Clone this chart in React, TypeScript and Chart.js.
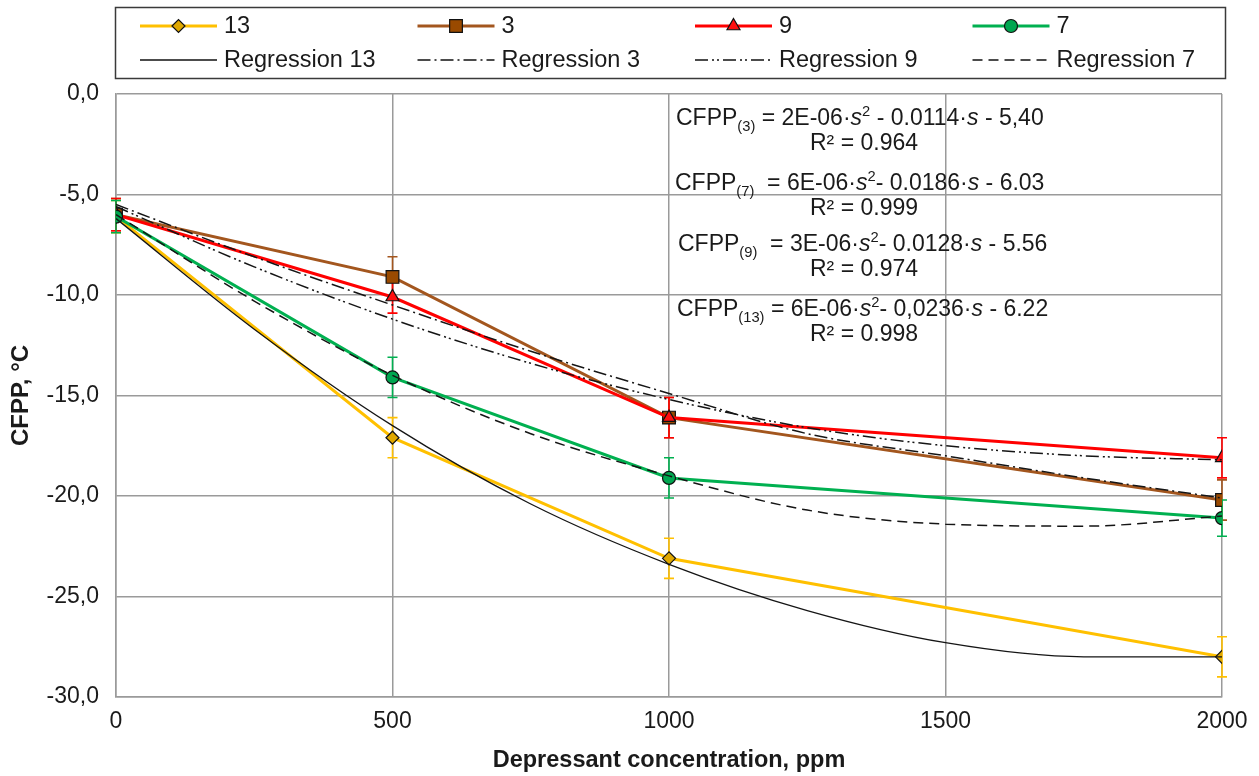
import React, { useEffect, useRef } from 'react';
import { Chart, registerables } from 'chart.js';
import { drawPoint } from 'chart.js/helpers';

Chart.register(...registerables);

// ---------- data ----------
const concentrations = [0, 500, 1000, 2000];
const series13 = [-6.1, -17.1, -23.1, -28.0];
const series3 = [-6.0, -9.1, -16.1, -20.2];
const series9 = [-6.0, -10.1, -16.1, -18.1];
const series7 = [-6.1, -14.1, -19.1, -21.1];
const err13 = [0.8, 1.0, 1.0, 1.0];
const err3 = [0.8, 1.0, 1.0, 1.0];
const err9 = [0.8, 0.8, 1.0, 1.0];
const err7 = [0.8, 1.0, 1.0, 0.9];

const regX = [0, 250, 500, 750, 1000, 1250, 1500, 1750, 2000];
const reg13 = [-6.2, -11.7, -16.5, -20.4, -23.4, -25.7, -27.3, -28.0, -28.0];
const reg3 = [-5.5, -8.1, -10.5, -12.8, -14.9, -16.9, -18.0, -19.1, -20.1];
const reg9 = [-5.6, -8.6, -11.2, -13.4, -15.2, -16.6, -17.5, -18.0, -18.2];
const reg7 = [-6.0, -10.3, -14.0, -16.9, -19.0, -20.7, -21.4, -21.5, -21.0];

const seriesNames = ['13', '3', '9', '7'];
const regNames = ['Regression 13', 'Regression 3', 'Regression 9', 'Regression 7'];

const xTickValues = [0, 500, 1000, 1500, 2000];
const xTickLabels = ['0', '500', '1000', '1500', '2000'];
const yTickValues = [0, -5, -10, -15, -20, -25, -30];
const yTickLabels = ['0,0', '-5,0', '-10,0', '-15,0', '-20,0', '-25,0', '-30,0'];

const eqSub = ['(3)', '(7)', '(9)', '(13)'];
const eqGap = [' ', '  ', '  ', ' '];
const eqCoefA = ['2E-06', '6E-06', '3E-06', '6E-06'];
const eqSepSq = [' ', '', '', ''];
const eqCoefB = ['0.0114', '0.0186', '0.0128', '0,0236'];
const eqConst = ['5,40', '6.03', '5.56', '6.22'];
const eqR2 = ['0.964', '0.999', '0.974', '0.998'];

// ---------- style ----------
const FONT = "'Liberation Sans', Arial, sans-serif";
const TEXT = '#1a1a1a';
const GRID = '#9a9a9a';
const lineColors = ['#FFC000', '#A3561E', '#FF0000', '#00B050'];
const markerFill = ['#E0A800', '#9A4A00', '#FF1010', '#00A650'];
const markerStyles = ['rectRot', 'rect', 'triangle', 'circle'];
const markerRadius = [6.5, 9, 7.5, 6.5];
const seriesOrder = [5, 4, 3, 2];
const regDash: number[][] = [[], [13, 4, 2, 4], [13, 4, 2, 3, 2, 4], [10, 6]];

const allSeries = [series13, series3, series9, series7];
const allErr = [err13, err3, err9, err7];
const allReg = [reg13, reg3, reg9, reg7];

const errorBarPlugin = {
  id: 'errorBars',
  beforeDatasetsDraw(chart: any) {
    const { ctx, scales } = chart;
    const xs = scales.x, ys = scales.y;
    ctx.save();
    ctx.lineWidth = 1.6;
    allSeries.forEach((s, si) => {
      ctx.strokeStyle = lineColors[si];
      s.forEach((v, i) => {
        const px = xs.getPixelForValue(concentrations[i]);
        const top = ys.getPixelForValue(v + allErr[si][i]);
        const bot = ys.getPixelForValue(v - allErr[si][i]);
        ctx.beginPath();
        ctx.moveTo(px, top); ctx.lineTo(px, bot);
        ctx.moveTo(px - 5, top); ctx.lineTo(px + 5, top);
        ctx.moveTo(px - 5, bot); ctx.lineTo(px + 5, bot);
        ctx.stroke();
      });
    });
    ctx.restore();
  },
};

function drawRich(ctx: CanvasRenderingContext2D, parts: { t: string; k?: string }[], x: number, y: number, size: number) {
  let cx = x;
  for (const p of parts) {
    let s = size, dy = 0, st = '';
    if (p.k === 'sub') { s = size * 0.64; dy = size * 0.27; }
    if (p.k === 'sup') { s = size * 0.64; dy = -size * 0.38; }
    if (p.k === 'it') st = 'italic ';
    ctx.font = `${st}${s}px ${FONT}`;
    ctx.fillText(p.t, cx, y + dy);
    cx += ctx.measureText(p.t).width;
  }
}

const annotationPlugin = {
  id: 'equations',
  afterDraw(chart: any) {
    const ctx: CanvasRenderingContext2D = chart.ctx;
    const ca = chart.chartArea;
    ctx.save();
    ctx.fillStyle = TEXT;
    ctx.textBaseline = 'alphabetic';
    const eqLeft = [676, 675, 678, 677];
    const eqBase = [125, 190, 251, 316];
    const r2Base = [150, 215, 276, 341];
    const size = 23;
    eqSub.forEach((sub, i) => {
      const parts = [
        { t: 'CFPP' },
        { t: sub, k: 'sub' },
        { t: eqGap[i] + '= ' + eqCoefA[i] + '·' },
        { t: 's', k: 'it' },
        { t: '2', k: 'sup' },
        { t: eqSepSq[i] + '- ' + eqCoefB[i] + '·' },
        { t: 's', k: 'it' },
        { t: ' - ' + eqConst[i] },
      ];
      ctx.textAlign = 'left';
      drawRich(ctx, parts, eqLeft[i], eqBase[i], size);
      ctx.font = `${size}px ${FONT}`;
      ctx.textAlign = 'center';
      ctx.fillText('R² = ' + eqR2[i], 864, r2Base[i]);
    });

    // legend
    const bx = ca.left - 1, by = 7, bw = ca.right - ca.left + 4, bh = 71;
    ctx.strokeStyle = '#3a3a3a';
    ctx.lineWidth = 1.5;
    ctx.strokeRect(bx + 0.5, by + 0.5, bw, bh);
    const colW = bw / 4;
    const rowY = [26, 60];
    ctx.textAlign = 'left';
    ctx.textBaseline = 'middle';
    for (let i = 0; i < 4; i++) {
      const x0 = bx + 25 + colW * i;
      const x1 = x0 + 77;
      ctx.setLineDash([]);
      ctx.strokeStyle = lineColors[i];
      ctx.lineWidth = 3;
      ctx.beginPath(); ctx.moveTo(x0, rowY[0]); ctx.lineTo(x1, rowY[0]); ctx.stroke();
      ctx.fillStyle = markerFill[i];
      ctx.strokeStyle = '#111';
      ctx.lineWidth = 1.2;
      drawPoint(ctx, { pointStyle: markerStyles[i], radius: markerRadius[i], borderWidth: 1.2, rotation: 0 } as any, (x0 + x1) / 2, rowY[0]);
      ctx.fillStyle = TEXT;
      ctx.font = `23.5px ${FONT}`;
      ctx.fillText(seriesNames[i], x1 + 7, rowY[0] + 1);
      ctx.strokeStyle = '#111';
      ctx.lineWidth = 1.5;
      ctx.setLineDash(regDash[i]);
      ctx.beginPath(); ctx.moveTo(x0, rowY[1]); ctx.lineTo(x1, rowY[1]); ctx.stroke();
      ctx.setLineDash([]);
      ctx.fillText(regNames[i], x1 + 7, rowY[1] + 1);
    }
    ctx.restore();
  },
};

export default function App() {
  const ref = useRef<HTMLCanvasElement>(null);
  useEffect(() => {
    document.body.style.margin = '0';
    const colored = allSeries.map((s, i) => ({
      label: seriesNames[i],
      data: s.map((v, j) => ({ x: concentrations[j], y: v })),
      borderColor: lineColors[i],
      backgroundColor: markerFill[i],
      borderWidth: 3,
      pointStyle: markerStyles[i],
      pointRadius: markerRadius[i],
      pointBackgroundColor: markerFill[i],
      pointBorderColor: '#111',
      pointBorderWidth: 1.2,
      tension: 0,
      order: seriesOrder[i],
    }));
    const regs = allReg.map((r, i) => ({
      label: regNames[i],
      data: r.map((v, j) => ({ x: regX[j], y: v })),
      borderColor: '#151515',
      borderWidth: i === 0 ? 1.3 : 1.5,
      borderDash: regDash[i],
      pointRadius: 0,
      cubicInterpolationMode: 'monotone',
      order: 1,
    }));
    const chart = new Chart(ref.current!, {
      type: 'line',
      data: { datasets: [...colored, ...regs] as any },
      plugins: [errorBarPlugin, annotationPlugin],
      options: {
        responsive: false,
        animation: false,
        layout: { padding: { left: 0, top: 94, right: 37, bottom: 0 } },
        plugins: { legend: { display: false }, tooltip: { enabled: false } },
        scales: {
          x: {
            type: 'linear',
            min: 0,
            max: 2000,
            afterFit: (s: any) => { s.height = 79; },
            afterBuildTicks: (s: any) => { s.ticks = xTickValues.map((v) => ({ value: v })); },
            ticks: {
              padding: 11,
              color: TEXT,
              font: { family: FONT, size: 23 },
              callback: (v: any) => xTickLabels[xTickValues.indexOf(Number(v))],
            },
            grid: { color: GRID, lineWidth: 1.5, drawTicks: false },
            border: { color: GRID, width: 1.5 },
            title: {
              display: true,
              text: 'Depressant concentration, ppm',
              color: TEXT,
              font: { family: FONT, size: 23.5, weight: 'bold' },
              padding: { top: 0, bottom: 1 },
            },
          },
          y: {
            type: 'linear',
            min: -30,
            max: 0,
            afterFit: (s: any) => { s.width = 116; },
            afterBuildTicks: (s: any) => { s.ticks = yTickValues.map((v) => ({ value: v })); },
            ticks: {
              padding: 17,
              color: TEXT,
              font: { family: FONT, size: 23 },
              callback: (v: any) => yTickLabels[yTickValues.indexOf(Number(v))],
            },
            grid: { color: GRID, lineWidth: 1.5, drawTicks: false },
            border: { color: GRID, width: 1.5 },
            title: {
              display: true,
              text: 'CFPP, °C',
              color: TEXT,
              font: { family: FONT, size: 24, weight: 'bold' },
              padding: { top: 7, bottom: 0 },
            },
          },
        },
      } as any,
    });
    return () => chart.destroy();
  }, []);
  return (
    <div style={{ position: 'relative', width: 1259, height: 776, background: '#fff' }}>
      <canvas ref={ref} width={1259} height={776} style={{ display: 'block', width: 1259, height: 776 }} />
    </div>
  );
}
